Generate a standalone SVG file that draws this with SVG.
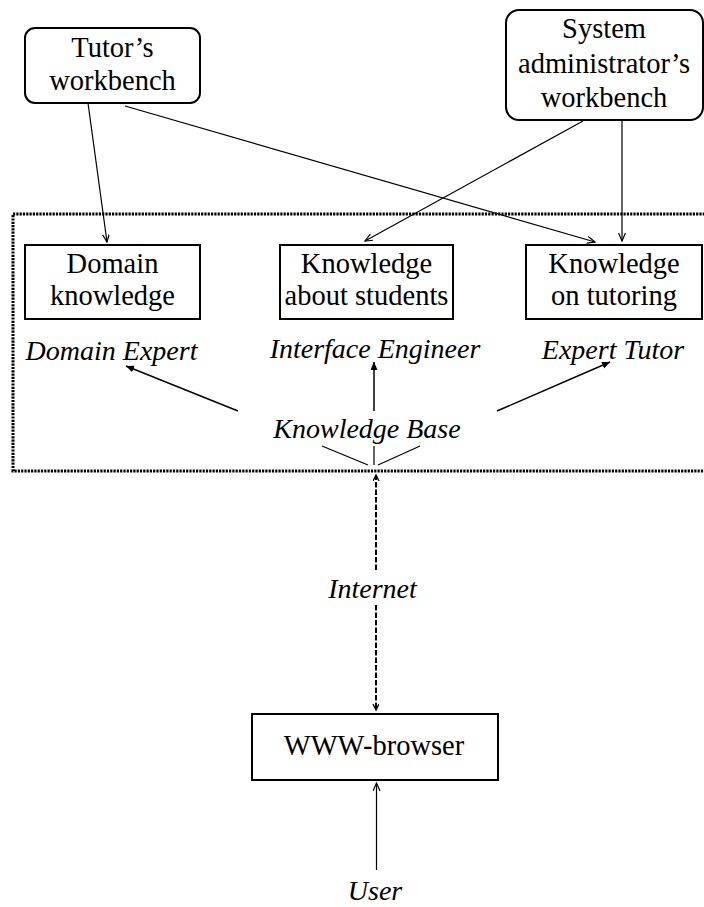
<svg xmlns="http://www.w3.org/2000/svg" width="704" height="907" viewBox="0 0 704 907">
  <style>
    .box { fill: #fff; stroke: #000; stroke-width: 2; }
    .thin { stroke: #000; stroke-width: 1.2; fill: none; }
    .kb { stroke: #000; stroke-width: 1.5; fill: none; }
    .dash { stroke: #000; stroke-width: 2; stroke-dasharray: 5.5 2; fill: none; }
    .frame { fill: none; stroke: #000; stroke-width: 3; stroke-dasharray: 2.2 1.1; }
  </style>
  <defs>
    <marker id="open" markerUnits="userSpaceOnUse" markerWidth="10" markerHeight="8" refX="8" refY="3.5" orient="auto">
      <path d="M0,0 L8,3.5 L0,7" fill="none" stroke="#000" stroke-width="1.2"/>
    </marker>
    <marker id="solid" markerUnits="userSpaceOnUse" markerWidth="10" markerHeight="8" refX="8" refY="3.5" orient="auto">
      <path d="M0,0 L8,3.5 L0,7 Z" fill="#000"/>
    </marker>
    <marker id="small" markerUnits="userSpaceOnUse" markerWidth="8" markerHeight="8" refX="6" refY="3" orient="auto">
      <path d="M0,0 L6,3 L0,6" fill="none" stroke="#000" stroke-width="1.3"/>
    </marker>
  </defs>

  <!-- knowledge base frame -->
  <rect class="frame" x="13" y="214" width="700" height="257"/>

  <!-- workbenches -->
  <g id="tutor-workbench">
    <rect class="box" x="25" y="28" width="175" height="75" rx="10"/>
    <text x="112.5" y="57" font-family="Liberation Serif" font-size="28.5" text-anchor="middle">Tutor’s</text>
    <text x="112.5" y="90" font-family="Liberation Serif" font-size="28.5" text-anchor="middle">workbench</text>
  </g>
  <g id="admin-workbench">
    <rect class="box" x="506" y="10" width="197" height="110" rx="13"/>
    <text x="604" y="38" font-family="Liberation Serif" font-size="28.5" text-anchor="middle">System</text>
    <text x="604" y="73" font-family="Liberation Serif" font-size="28.5" text-anchor="middle">administrator’s</text>
    <text x="604" y="107" font-family="Liberation Serif" font-size="28.5" text-anchor="middle">workbench</text>
  </g>

  <!-- knowledge components -->
  <g id="domain-knowledge">
    <rect class="box" x="25" y="245" width="175" height="74"/>
    <text x="112.5" y="273" font-family="Liberation Serif" font-size="28.5" text-anchor="middle">Domain</text>
    <text x="112.5" y="305" font-family="Liberation Serif" font-size="28.5" text-anchor="middle">knowledge</text>
  </g>
  <g id="student-knowledge">
    <rect class="box" x="280" y="245" width="173" height="74"/>
    <text x="366.5" y="273" font-family="Liberation Serif" font-size="28.5" text-anchor="middle">Knowledge</text>
    <text x="366.5" y="305" font-family="Liberation Serif" font-size="28.5" text-anchor="middle">about students</text>
  </g>
  <g id="tutoring-knowledge">
    <rect class="box" x="526" y="245" width="176" height="74"/>
    <text x="614" y="273" font-family="Liberation Serif" font-size="28.5" text-anchor="middle">Knowledge</text>
    <text x="614" y="305" font-family="Liberation Serif" font-size="28.5" text-anchor="middle">on tutoring</text>
  </g>

  <!-- roles and labels -->
  <g id="domain-expert"><text x="111.5" y="360" font-family="Liberation Serif" font-size="28" font-style="italic" text-anchor="middle">Domain Expert</text></g>
  <g id="interface-engineer"><text x="375" y="358" font-family="Liberation Serif" font-size="28" font-style="italic" text-anchor="middle">Interface Engineer</text></g>
  <g id="expert-tutor"><text x="613" y="359" font-family="Liberation Serif" font-size="28" font-style="italic" text-anchor="middle">Expert Tutor</text></g>
  <g id="knowledge-base"><text x="367" y="438" font-family="Liberation Serif" font-size="28" font-style="italic" text-anchor="middle">Knowledge Base</text></g>
  <g id="internet"><text x="372.5" y="598" font-family="Liberation Serif" font-size="28" font-style="italic" text-anchor="middle">Internet</text></g>

  <g id="www-browser">
    <rect class="box" x="252" y="714" width="246" height="66"/>
    <text x="374" y="755" font-family="Liberation Serif" font-size="28.5" text-anchor="middle">WWW-browser</text>
  </g>
  <g id="user"><text x="375" y="900" font-family="Liberation Serif" font-size="28" font-style="italic" text-anchor="middle">User</text></g>

  <!-- connectors -->
  <g id="connectors">
    <line class="thin" x1="88" y1="103" x2="107" y2="242" marker-end="url(#open)"/>
    <line class="thin" x1="125" y1="106" x2="595" y2="242" marker-end="url(#open)"/>
    <line class="thin" x1="583" y1="121" x2="365" y2="241" marker-end="url(#open)"/>
    <line class="thin" x1="622" y1="121" x2="622" y2="241" marker-end="url(#open)"/>

    <line class="kb" x1="238" y1="411" x2="126" y2="366" marker-end="url(#solid)"/>
    <line class="kb" x1="374" y1="411" x2="374" y2="362" marker-end="url(#solid)"/>
    <line class="kb" x1="497" y1="411" x2="610" y2="362" marker-end="url(#solid)"/>

    <line class="thin" x1="322" y1="446" x2="368" y2="465"/>
    <line class="thin" x1="374" y1="446" x2="374" y2="465"/>
    <line class="thin" x1="420" y1="446" x2="378" y2="465"/>

    <line class="dash" x1="376" y1="570" x2="376" y2="475" marker-end="url(#small)"/>
    <line class="dash" x1="376" y1="605" x2="376" y2="710" marker-end="url(#small)"/>

    <line class="thin" x1="376.5" y1="870" x2="376.5" y2="783" marker-end="url(#open)"/>
  </g>
</svg>
